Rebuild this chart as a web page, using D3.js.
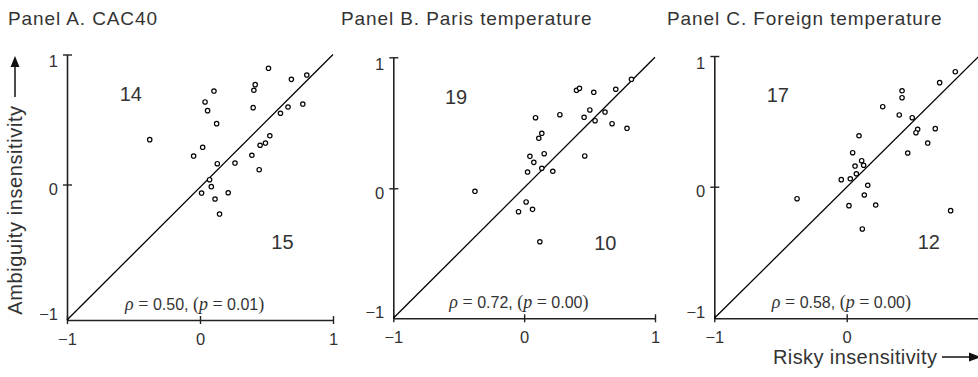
<!DOCTYPE html>
<html>
<head>
<meta charset="utf-8">
<script src="https://cdn.jsdelivr.net/npm/d3@7"></script>
<style>
  html, body { margin: 0; padding: 0; background: #fff; }
  svg { display: block; }
  text { font-family: "Liberation Sans", Arial, Helvetica, sans-serif; fill: #333; }
</style>
</head>
<body>
<svg id="chart" width="978" height="377"></svg>
<script>
// ---------------- data ----------------
const panelTitles = ["Panel A. CAC40", "Panel B. Paris temperature", "Panel C. Foreign temperature"];
const xAxisTitle = "Risky insensitivity";
const yAxisTitle = "Ambiguity insensitivity";
const tickValues = [-1, 0, 1];
const tickLabels = ["\u22121", "0", "1"];
const countsAbove = [14, 19, 17];
const countsBelow = [15, 10, 12];
const rhoValues = ["0.50", "0.72", "0.58"];
const pValues = ["0.01", "0.00", "0.00"];

// Panel A: CAC40
const riskyA = [0.515, 0.803, 0.687, 0.415, 0.405, 0.105, 0.038, 0.773, 0.662, 0.400, 0.057, 0.605, 0.125, 0.525, -0.378,
                0.492, 0.452, 0.020, -0.048, 0.390, 0.130, 0.263, 0.445, 0.072, 0.085, 0.012, 0.212, 0.113, 0.147];
const ambigA = [0.894, 0.842, 0.809, 0.768, 0.725, 0.719, 0.635, 0.619, 0.596, 0.591, 0.568, 0.548, 0.468, 0.375, 0.345,
                0.319, 0.302, 0.286, 0.219, 0.225, 0.160, 0.165, 0.114, 0.037, -0.016, -0.063, -0.061, -0.107, -0.218];
// Panel B: Paris temperature
const riskyB = [0.820, 0.400, 0.423, 0.700, 0.532, 0.502, 0.618, 0.273, 0.087, 0.458, 0.542, 0.672, 0.786, 0.135,
                0.112, 0.153, 0.044, 0.463, 0.074, 0.026, 0.135, 0.219, -0.376, 0.015, -0.043, 0.064, 0.120];
const ambigB = [0.832, 0.748, 0.763, 0.756, 0.733, 0.598, 0.582, 0.562, 0.539, 0.542, 0.516, 0.493, 0.458, 0.420,
                0.382, 0.264, 0.244, 0.247, 0.198, 0.124, 0.153, 0.130, -0.023, -0.105, -0.180, -0.162, -0.411];
// Panel C: Foreign temperature
const riskyC = [0.820, 0.702, 0.418, 0.418, 0.272, 0.397, 0.495, 0.536, 0.523, 0.669, 0.612, 0.093, 0.461, 0.045,
                0.113, 0.063, 0.128, 0.073, -0.041, 0.027, 0.159, 0.133, -0.375, 0.017, 0.219, 0.785, 0.118];
const ambigC = [0.880, 0.796, 0.734, 0.681, 0.612, 0.549, 0.528, 0.439, 0.413, 0.444, 0.334, 0.390, 0.258, 0.260,
                0.199, 0.158, 0.164, 0.099, 0.054, 0.061, 0.011, -0.063, -0.091, -0.144, -0.139, -0.182, -0.321];

const riskySeries = [riskyA, riskyB, riskyC];
const ambigSeries = [ambigA, ambigB, ambigC];

// ---------------- layout ----------------
const layout = [
  { xr: [67, 333],     yr: [320, 184.5, 54.5], titleX: 8 },
  { xr: [393.3, 655],  yr: [318.3, 188.3, 57.3], titleX: 341 },
  { xr: [714.3, 979.1], yr: [318.3, 186.7, 56], titleX: 667 }
];

const svg = d3.select("#chart");
const ink = "#222";

panelTitles.forEach((title, i) => {
  const L = layout[i];
  const x = d3.scaleLinear().domain([-1, 1]).range(L.xr);
  const y = d3.scaleLinear().domain([-1, 0, 1]).range(L.yr);
  const g = svg.append("g");

  // title
  g.append("text").attr("x", L.titleX).attr("y", 25)
    .attr("font-size", 19).attr("letter-spacing", 0.9).text(title);

  // x axis
  const xa = g.append("g").attr("transform", `translate(0,${y(-1)})`)
    .call(d3.axisBottom(x).tickValues(tickValues).tickSize(4).tickSizeOuter(0).tickFormat((d, k) => tickLabels[k]));
  xa.select(".domain").attr("stroke", ink).attr("stroke-width", 1.6);
  xa.selectAll(".tick line").attr("stroke", ink).attr("stroke-width", 1.4).attr("y1", -4);
  xa.selectAll(".tick text").attr("font-size", 16.5).attr("fill", "#333")
    .attr("font-family", "Liberation Sans, Arial, sans-serif").attr("y", 13).attr("dy", "0.71em");
  xa.selectAll(".tick").filter(d => d === 1 && i === 2).remove();

  // y axis
  const ya = g.append("g").attr("transform", `translate(${x(-1)},0)`)
    .call(d3.axisLeft(y).tickValues(tickValues).tickSize(4).tickSizeOuter(0).tickFormat((d, k) => tickLabels[k]));
  ya.select(".domain").attr("stroke", ink).attr("stroke-width", 1.6);
  ya.selectAll(".tick line").attr("stroke", ink).attr("stroke-width", 1.4).attr("x2", 5).attr("x1", -4);
  ya.selectAll(".tick line").filter(d => d === -1).remove();
  ya.selectAll(".tick text").attr("font-size", 16.5).attr("fill", "#333")
    .attr("font-family", "Liberation Sans, Arial, sans-serif")
    .attr("x", -9).attr("dy", d => d === -1 ? "-0.05em" : (d === 1 ? "0.75em" : "0.6em"));

  // diagonal
  g.append("line")
    .attr("x1", x(-1)).attr("y1", y(-1)).attr("x2", x(1)).attr("y2", y(1))
    .attr("stroke", "#000").attr("stroke-width", 1.3);

  // points
  const pts = riskySeries[i].map((v, k) => ({ rx: v, ay: ambigSeries[i][k] }));
  g.selectAll("circle.pt").data(pts).enter().append("circle")
    .attr("class", "pt")
    .attr("cx", d => x(d.rx)).attr("cy", d => y(d.ay)).attr("r", 2.2)
    .attr("fill", "#fff").attr("stroke", "#000").attr("stroke-width", 1.2);

  // counts
  g.append("text").attr("x", x(-0.52)).attr("y", y(0.70)).attr("dy", "0.36em")
    .attr("text-anchor", "middle").attr("font-size", 20).text(countsAbove[i]);
  g.append("text").attr("x", x(0.62)).attr("y", y(-0.42)).attr("dy", "0.36em")
    .attr("text-anchor", "middle").attr("font-size", 20).text(countsBelow[i]);

  // correlation note
  const serif = "Liberation Serif, DejaVu Serif, serif";
  const t = g.append("text").attr("x", x(-0.04)).attr("y", y(-1) - 10)
    .attr("text-anchor", "middle").attr("font-size", 16);
  t.append("tspan").attr("font-family", serif).attr("font-style", "italic").attr("font-size", 18).text("\u03c1");
  t.append("tspan").attr("font-family", serif).attr("font-size", 18).text("\u00a0=\u00a0");
  t.append("tspan").text(rhoValues[i] + ",\u00a0");
  t.append("tspan").attr("font-family", serif).attr("font-size", 18).text("(");
  t.append("tspan").attr("font-family", serif).attr("font-style", "italic").attr("font-size", 18).text("p");
  t.append("tspan").attr("font-family", serif).attr("font-size", 18).text("\u00a0=\u00a0");
  t.append("tspan").text(pValues[i]);
  t.append("tspan").attr("font-family", serif).attr("font-size", 18).text(")");
});

// y axis title with arrow
svg.append("text")
  .attr("transform", "translate(22,210) rotate(-90)")
  .attr("text-anchor", "middle").attr("font-size", 20).attr("letter-spacing", 0.6)
  .text(yAxisTitle);
svg.append("line").attr("x1", 15).attr("x2", 15).attr("y1", 97).attr("y2", 64)
  .attr("stroke", "#111").attr("stroke-width", 1.5);
svg.append("path").attr("d", "M15,56 L10.5,67 L19.5,67 Z").attr("fill", "#111");

// x axis title with arrow
svg.append("text")
  .attr("x", 773).attr("y", 364).attr("font-size", 20).attr("letter-spacing", 0.4)
  .text(xAxisTitle);
svg.append("line").attr("x1", 942).attr("x2", 970).attr("y1", 357).attr("y2", 357)
  .attr("stroke", "#111").attr("stroke-width", 1.5);
svg.append("path").attr("d", "M981,357 L969,352.5 L969,361.5 Z").attr("fill", "#111");
</script>
</body>
</html>
